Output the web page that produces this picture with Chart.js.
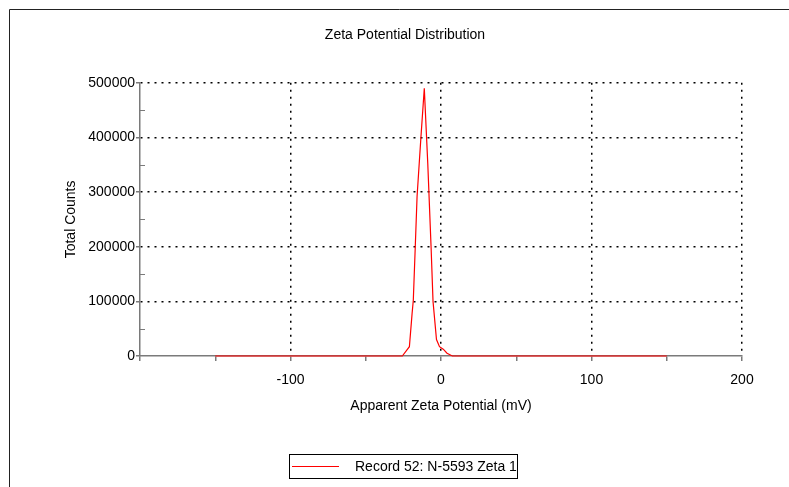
<!DOCTYPE html>
<html>
<head>
<meta charset="utf-8">
<script src="https://cdn.jsdelivr.net/npm/chart.js@4"></script>
<style>
  html, body { margin: 0; padding: 0; background: #fff; }
  #wrap { width: 789px; height: 487px; }
</style>
</head>
<body>
<div id="wrap"><canvas id="zetaChart" width="789" height="487"></canvas></div>
<script>
// values
const zeta = [-150, -25.7, -21, -19.2, -18.4, -17.1, -15.9, -13.3, -11.1, -8.8, -6.6, -5.3, -3, -1, 1.5, 4, 7.5, 150];
const counts = [0, 0, 17000, 78000, 102000, 200000, 292000, 402000, 490000, 353000, 200000, 100000, 30000, 17000, 12500, 5000, 0, 0];
const seriesLabel = "Record 52: N-5593 Zeta 1";
const chartTitle = "Zeta Potential Distribution";
const xTitle = "Apparent Zeta Potential (mV)";
const yTitle = "Total Counts";

const FONT = "'Liberation Sans', Arial, sans-serif";
const AXIS_GRAY = "#7a7a7a";

// frame, inner minor ticks on the y axis and the boxed legend
const extras = {
    id: "extras",
    afterDraw(chart) {
        const ctx = chart.ctx;
        const y = chart.scales.y;
        ctx.save();
        // outer frame (left + top only)
        ctx.strokeStyle = "#222";
        ctx.lineWidth = 1;
        ctx.beginPath();
        ctx.moveTo(9.5, 487);
        ctx.lineTo(9.5, 9.5);
        ctx.lineTo(789, 9.5);
        ctx.stroke();

        // minor ticks inside the plot on the y axis
        ctx.strokeStyle = AXIS_GRAY;
        ctx.lineWidth = 1;
        ctx.beginPath();
        for (let v = 50000; v < 500000; v += 100000) {
            const py = Math.round(y.getPixelForValue(v)) + 0.5;
            ctx.moveTo(y.right, py);
            ctx.lineTo(y.right + 5, py);
        }
        ctx.stroke();

        // legend
        const ds = chart.data.datasets[0];
        ctx.strokeStyle = "#000";
        ctx.strokeRect(289.5, 454.5, 228, 24);
        ctx.strokeStyle = ds.borderColor;
        ctx.beginPath();
        ctx.moveTo(292, 466.5);
        ctx.lineTo(339, 466.5);
        ctx.stroke();
        ctx.fillStyle = "#000";
        ctx.font = "14px " + FONT;
        ctx.textBaseline = "middle";
        ctx.fillText(ds.label, 355, 467);
        ctx.restore();
    }
};

const points = zeta.map((x, i) => ({ x: x, y: counts[i] }));

new Chart(document.getElementById("zetaChart"), {
    type: "line",
    data: {
        datasets: [{
            label: seriesLabel,
            data: points,
            borderColor: "rgb(255,0,0)",
            borderWidth: 1.2,
            pointRadius: 0,
            tension: 0,
            fill: false,
            clip: false
        }]
    },
    options: {
        responsive: false,
        animation: false,
        layout: { padding: { left: 68, right: 47, top: 0, bottom: 0 } },
        plugins: {
            legend: { display: false },
            tooltip: { enabled: false },
            title: {
                display: true,
                text: chartTitle,
                color: "#000",
                font: { family: FONT, size: 14, weight: "normal" },
                padding: { top: 27, bottom: 39 }
            }
        },
        scales: {
            x: {
                type: "linear",
                min: -200,
                max: 200,
                afterFit(s) { s.height = 131; },
                ticks: {
                    stepSize: 50,
                    autoSkip: false,
                    maxRotation: 0,
                    padding: 11,
                    color: "#000",
                    font: { family: FONT, size: 14 },
                    callback: v => (v % 100 === 0 && v !== -200) ? String(v) : ""
                },
                grid: {
                    color: c => (c.tick && c.tick.value % 100 === 0 && c.tick.value !== -200) ? "#000" : "rgba(0,0,0,0)",
                    lineWidth: 1.5,
                    tickColor: AXIS_GRAY,
                    tickLength: 5
                },
                border: { color: AXIS_GRAY, width: 1.5, dash: [2, 5] },
                title: {
                    display: true,
                    text: xTitle,
                    color: "#000",
                    font: { family: FONT, size: 14 },
                    padding: { top: 0, bottom: 72 }
                }
            },
            y: {
                min: 0,
                max: 500000,
                afterFit(s) { s.width = 72; },
                ticks: {
                    stepSize: 50000,
                    autoSkip: false,
                    padding: 1,
                    color: "#000",
                    font: { family: FONT, size: 14 },
                    callback: v => (v % 100000 === 0) ? String(v) : ""
                },
                grid: {
                    color: c => (c.tick && c.tick.value % 100000 === 0 && c.tick.value !== 0) ? "#000" : "rgba(0,0,0,0)",
                    lineWidth: 1.5,
                    tickColor: c => (c.tick && c.tick.value % 100000 === 0) ? AXIS_GRAY : "rgba(0,0,0,0)",
                    tickLength: 4
                },
                border: { color: AXIS_GRAY, width: 1.5, dash: [2, 5] },
                title: {
                    display: true,
                    text: yTitle,
                    color: "#000",
                    font: { family: FONT, size: 14, lineHeight: 0.4 },
                    padding: { top: 0, bottom: 0 }
                }
            }
        }
    },
    plugins: [extras]
});
</script>
</body>
</html>
